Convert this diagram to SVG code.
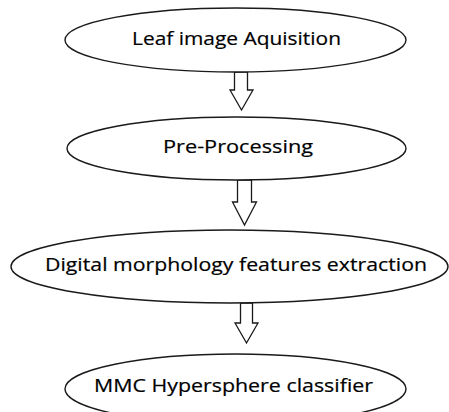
<svg xmlns="http://www.w3.org/2000/svg" width="449" height="412" viewBox="0 0 449 412">
<style>
.node ellipse{fill:#fff;stroke:#1a1a1a;stroke-width:1.4}
.node text{font-family:"Open Sans","Noto Sans","Liberation Sans",sans-serif;font-size:18.5px;fill:#000;stroke:#000;stroke-width:0.2;text-anchor:middle}
.arrow{fill:#fff;stroke:#1a1a1a;stroke-width:1.3;stroke-linejoin:miter}
</style>
<rect width="449" height="412" fill="#fff"/>
<g id="connectors">
<path class="arrow" d="M234.5,72 H247.5 V90 H253 L241.5,110 L230,90 H234.5 Z"/>
<path class="arrow" d="M237.5,180 H251.5 V202 H256.5 L244.5,225 L232.5,202 H237.5 Z"/>
<path class="arrow" d="M240.5,303 H252.5 V323 H258 L246.5,343 L235,323 H240.5 Z"/>
</g>
<g id="n1" class="node">
<ellipse cx="235.5" cy="40" rx="170.5" ry="32"/>
<text x="236.5" y="45.3" textLength="209" lengthAdjust="spacingAndGlyphs">Leaf image Aquisition</text>
</g>
<g id="n2" class="node">
<ellipse cx="236.5" cy="148.5" rx="169.5" ry="31.5"/>
<text x="238" y="153.3" textLength="150" lengthAdjust="spacingAndGlyphs">Pre-Processing</text>
</g>
<g id="n3" class="node">
<ellipse cx="229.5" cy="266.5" rx="218.5" ry="36.5"/>
<text x="236" y="270.7" textLength="382" lengthAdjust="spacingAndGlyphs">Digital morphology features extraction</text>
</g>
<g id="n4" class="node">
<ellipse cx="235.5" cy="389" rx="170.5" ry="35"/>
<text x="233.5" y="392.3" textLength="279" lengthAdjust="spacingAndGlyphs">MMC Hypersphere classifier</text>
</g>
</svg>
